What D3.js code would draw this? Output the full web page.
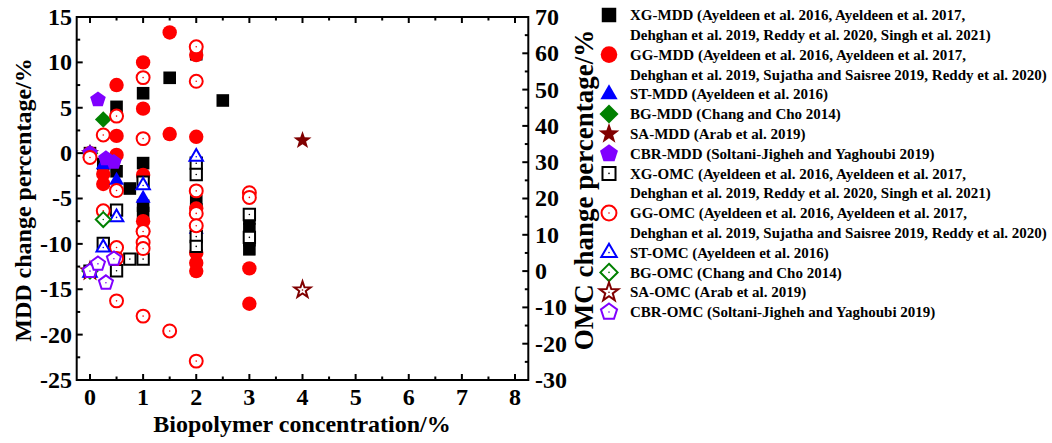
<!DOCTYPE html>
<html>
<head>
<meta charset="utf-8">
<script src="https://cdn.jsdelivr.net/npm/d3@7"></script>
<style>
  body { margin: 0; background: #fff; }
  text { font-family: "Liberation Serif", "Times New Roman", serif; font-weight: bold; fill: #000; }
</style>
</head>
<body>
<svg id="chart" width="1052" height="443"></svg>
<script>
// axis ticks
var xTicks = [0, 1, 2, 3, 4, 5, 6, 7, 8];
var mddTicks = [-25, -20, -15, -10, -5, 0, 5, 10, 15];
var omcTicks = [-30, -20, -10, 0, 10, 20, 30, 40, 50, 60, 70];

// MDD change (left axis), [concentration, value]
var xgMdd = [[0, 0], [0.25, -1.2], [0.5, 5.1], [0.5, -2.0], [0.75, -3.9], [1, 6.6], [1, -1.1], [1, -5.8], [1, -6.6],
  [1.5, 8.3], [2, 10.9], [2, -5.3], [2, -6.2], [2.5, 5.8], [3, -7.2], [3, -8.4], [3, -9.6], [3, -10.6]];
var ggMdd = [[0, 0], [0.25, -2.3], [0.25, -3.4], [0.5, 7.5], [0.5, 1.9], [0.5, -0.2], [1, 10.0], [1, 4.9], [1, -2.4],
  [1, -7.5], [1, -8.6], [1.5, 13.3], [1.5, 2.1], [2, 10.8], [2, 1.8], [2, -6.1], [2, -11.0], [2, -12.1], [2, -13.0],
  [3, -12.7], [3, -16.6]];
var stMdd = [[0, 0], [0.25, -1.3], [0.5, -3.0], [1, -5.0], [2, -8.4]];
var bgMdd = [[0, 0], [0.25, 3.7]];
var saMdd = [[0, 0], [4, 1.4]];
var cbrMdd = [[0, 0], [0.15, 5.9], [0.3, -0.6], [0.45, -1.0]];

// OMC change (right axis)
var xgOmc = [[0, 0], [0.25, 7.6], [0.5, 16.8], [0.5, 0.1], [0.75, 3.3], [1, 24.5], [1, 3.3], [2, 29.7], [2, 26.6],
  [2, 9.5], [2, 6.8], [3, 15.6], [3, 9.3]];
var ggOmc = [[0, 31.3], [0.25, 37.5], [0.25, 16.6], [0.5, 42.7], [0.5, 22.2], [0.5, 6.5], [0.5, 3.5], [0.5, -8.2],
  [1, 53.3], [1, 36.5], [1, 10.9], [1, 7.9], [1, 6.2], [1, -12.4], [1.5, -16.5], [2, 61.8], [2, 52.3], [2, 22.1],
  [2, 15.9], [2, 12.5], [2, -24.8], [3, 21.6], [3, 20.3]];
var stOmc = [[0, -0.5], [0.25, 6.5], [0.5, 14.8], [1, 23.6], [2, 31.5]];
var bgOmc = [[0, 0], [0.25, 14.2]];
var saOmc = [[0, 0], [4, -5.2]];
var cbrOmc = [[0, 0], [0.15, 2.0], [0.3, -3.2], [0.45, 3.4]];

var legendLabels = [
  ["XG-MDD (Ayeldeen et al. 2016, Ayeldeen et al. 2017,", "Dehghan et al. 2019, Reddy et al. 2020, Singh et al. 2021)"],
  ["GG-MDD (Ayeldeen et al. 2016, Ayeldeen et al. 2017,", "Dehghan et al. 2019, Sujatha and Saisree 2019, Reddy et al. 2020)"],
  ["ST-MDD (Ayeldeen et al. 2016)"],
  ["BG-MDD (Chang and Cho 2014)"],
  ["SA-MDD (Arab et al. 2019)"],
  ["CBR-MDD (Soltani-Jigheh and Yaghoubi 2019)"],
  ["XG-OMC (Ayeldeen et al. 2016, Ayeldeen et al. 2017,", "Dehghan et al. 2019, Reddy et al. 2020, Singh et al. 2021)"],
  ["GG-OMC (Ayeldeen et al. 2016, Ayeldeen et al. 2017,", "Dehghan et al. 2019, Sujatha and Saisree 2019, Reddy et al. 2020)"],
  ["ST-OMC (Ayeldeen et al. 2016)"],
  ["BG-OMC (Chang and Cho 2014)"],
  ["SA-OMC (Arab et al. 2019)"],
  ["CBR-OMC (Soltani-Jigheh and Yaghoubi 2019)"]
];

var series = [
  {data: xgMdd, shape: "square", color: "#000000", open: false, axis: "mdd"},
  {data: ggMdd, shape: "circle", color: "#ff0000", open: false, axis: "mdd"},
  {data: stMdd, shape: "triangle", color: "#0000ff", open: false, axis: "mdd"},
  {data: bgMdd, shape: "diamond", color: "#008000", open: false, axis: "mdd"},
  {data: saMdd, shape: "star", color: "#800000", open: false, axis: "mdd"},
  {data: cbrMdd, shape: "pentagon", color: "#8000ff", open: false, axis: "mdd"},
  {data: xgOmc, shape: "square", color: "#000000", open: true, axis: "omc"},
  {data: ggOmc, shape: "circle", color: "#ff0000", open: true, axis: "omc"},
  {data: stOmc, shape: "triangle", color: "#0000ff", open: true, axis: "omc"},
  {data: bgOmc, shape: "diamond", color: "#008000", open: true, axis: "omc"},
  {data: saOmc, shape: "star", color: "#800000", open: true, axis: "omc"},
  {data: cbrOmc, shape: "pentagon", color: "#8000ff", open: true, axis: "omc"}
];

var svg = d3.select("#chart");
var pLeft = 76.7, pRight = 528.3, pTop = 17, pBottom = 380;

var x = d3.scaleLinear().domain([-0.25, 8.25]).range([pLeft, pRight]);
var yL = d3.scaleLinear().domain([-25, 15]).range([pBottom, pTop]);
var yR = d3.scaleLinear().domain([-30, 70]).range([pBottom, pTop]);

// marker paths centred on 0,0
function shapePath(s) {
  var p = [];
  if (s == "square") {
    var h = 6.3;
    return "M" + -h + "," + -h + "H" + h + "V" + h + "H" + -h + "Z";
  }
  if (s == "circle") {
    var r = 7.2;
    return "M" + r + ",0A" + r + "," + r + " 0 1,1 " + -r + ",0A" + r + "," + r + " 0 1,1 " + r + ",0Z";
  }
  if (s == "triangle") {
    var a = 15;
    p = [[0, -a / Math.sqrt(3)], [a / 2, a / (2 * Math.sqrt(3))], [-a / 2, a / (2 * Math.sqrt(3))]];
  }
  if (s == "diamond") {
    var d = 8.3;
    p = [[0, -d], [d, 0], [0, d], [-d, 0]];
  }
  if (s == "pentagon") {
    for (var i = 0; i < 5; i++) {
      var ang = -Math.PI / 2 + i * 2 * Math.PI / 5;
      p.push([8.2 * Math.cos(ang), 8.2 * Math.sin(ang)]);
    }
  }
  if (s == "star") {
    for (var i = 0; i < 10; i++) {
      var ang = -Math.PI / 2 + i * Math.PI / 5;
      var rr = i % 2 == 0 ? 9.5 : 3.8;
      p.push([rr * Math.cos(ang), rr * Math.sin(ang)]);
    }
  }
  return "M" + p.map(function(q) { return q[0].toFixed(2) + "," + q[1].toFixed(2); }).join("L") + "Z";
}

function drawMarker(g, sr, scale) {
  var open = sr.open;
  var path = shapePath(sr.shape);
  var m = g.append("g");
  m.append("path")
    .attr("d", path)
    .attr("transform", open ? "scale(" + scale * 0.9 + ")" : "scale(" + scale + ")")
    .attr("fill", open ? "#fff" : sr.color)
    .attr("stroke", sr.color)
    .attr("stroke-width", open ? 2 / (scale * 0.9) : 0);
  if (open) {
    m.append("circle").attr("r", 0.8).attr("fill", sr.color);
  }
  return m;
}

// points
var pts = svg.append("g");
series.forEach(function(sr) {
  var yy = sr.axis == "mdd" ? yL : yR;
  sr.data.forEach(function(d) {
    drawMarker(pts, sr, 1).attr("transform", "translate(" + x(d[0]) + "," + yy(d[1]) + ")");
  });
});

// frame and ticks (all inward)
var ax = svg.append("g");
ax.append("rect")
  .attr("x", pLeft).attr("y", pTop)
  .attr("width", pRight - pLeft).attr("height", pBottom - pTop)
  .attr("fill", "none").attr("stroke", "#000").attr("stroke-width", 2);

d3.range(0, 8.01, 0.5).forEach(function(v) {
  var len = v % 1 == 0 ? 6 : 3.5;
  ax.append("line").attr("x1", x(v)).attr("x2", x(v)).attr("y1", pBottom).attr("y2", pBottom - len)
    .attr("stroke", "#000").attr("stroke-width", 2);
  ax.append("line").attr("x1", x(v)).attr("x2", x(v)).attr("y1", pTop).attr("y2", pTop + len)
    .attr("stroke", "#000").attr("stroke-width", 2);
});
d3.range(-25, 15.01, 2.5).forEach(function(v) {
  var len = v % 5 == 0 ? 6 : 3.5;
  ax.append("line").attr("x1", pLeft).attr("x2", pLeft + len).attr("y1", yL(v)).attr("y2", yL(v))
    .attr("stroke", "#000").attr("stroke-width", 2);
});
d3.range(-30, 70.01, 5).forEach(function(v) {
  var len = v % 10 == 0 ? 6 : 3.5;
  ax.append("line").attr("x1", pRight).attr("x2", pRight - len).attr("y1", yR(v)).attr("y2", yR(v))
    .attr("stroke", "#000").attr("stroke-width", 2);
});

// tick labels
ax.selectAll(".xl").data(xTicks).enter().append("text")
  .attr("x", function(d) { return x(d); }).attr("y", 405)
  .attr("text-anchor", "middle").attr("font-size", 24)
  .text(function(d) { return d; });
ax.selectAll(".yl").data(mddTicks).enter().append("text")
  .attr("x", 72).attr("y", function(d) { return yL(d); }).attr("dy", "0.33em")
  .attr("text-anchor", "end").attr("font-size", 24)
  .text(function(d) { return d; });
ax.selectAll(".yr").data(omcTicks).enter().append("text")
  .attr("x", 535).attr("y", function(d) { return yR(d); }).attr("dy", "0.33em")
  .attr("text-anchor", "start").attr("font-size", 24)
  .text(function(d) { return d; });

// axis titles
svg.append("text").attr("x", 302).attr("y", 432)
  .attr("text-anchor", "middle").attr("font-size", 24)
  .text("Biopolymer concentration/%");
svg.append("text").attr("transform", "translate(31,200) rotate(-90)")
  .attr("text-anchor", "middle").attr("font-size", 24)
  .text("MDD change percentage/%");
svg.append("text").attr("transform", "translate(593,190) rotate(-90)")
  .attr("text-anchor", "middle").attr("font-size", 27)
  .text("OMC change percentage/%");

// legend
var lg = svg.append("g");
var rowY = 15;
series.forEach(function(sr, i) {
  drawMarker(lg, sr, 1.15).attr("transform", "translate(609," + rowY + ")");
  legendLabels[i].forEach(function(line, j) {
    lg.append("text").attr("x", 630).attr("y", rowY + j * 19.8).attr("dy", "0.35em")
      .attr("font-size", 15).text(line);
  });
  rowY += 19.8 * legendLabels[i].length;
});
</script>
</body>
</html>
